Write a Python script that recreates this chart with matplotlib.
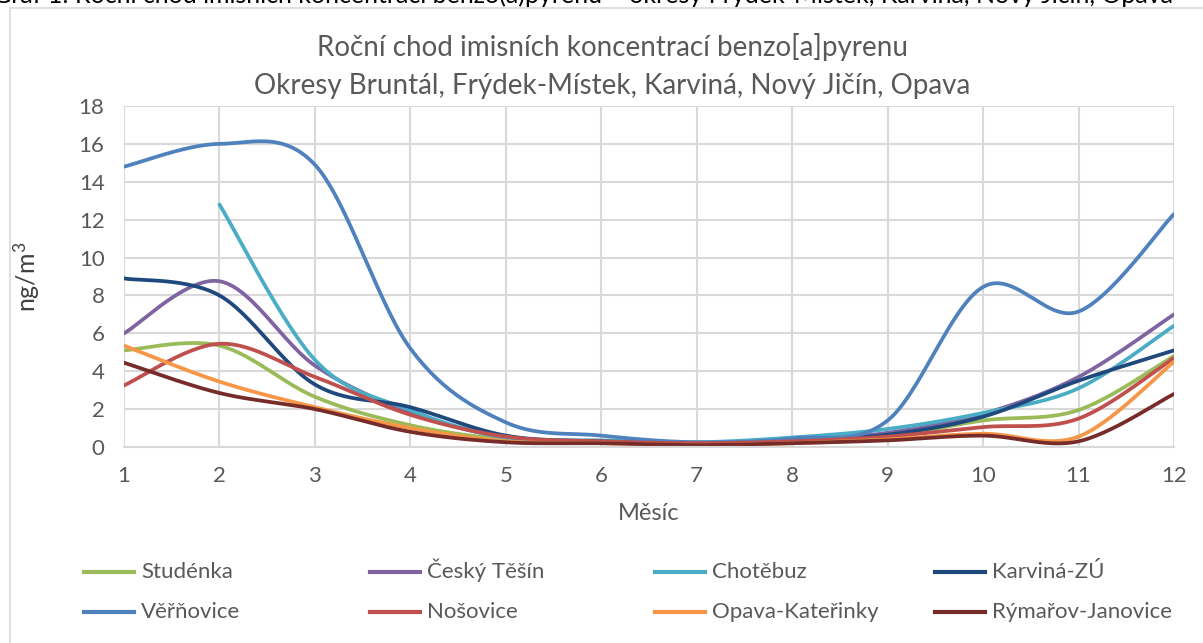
import numpy as np
import matplotlib.pyplot as plt
from matplotlib.lines import Line2D
from matplotlib.patches import Rectangle

plt.rcParams['font.family'] = ['Lato', 'DejaVu Sans']
plt.rcParams['mathtext.fontset'] = 'custom'
plt.rcParams['mathtext.rm'] = 'Lato'

# data (ng/m3, monthly means)
months = [1, 2, 3, 4, 5, 6, 7, 8, 9, 10, 11, 12]
studenka = [5.1, 5.35, 2.65, 1.15, 0.4, 0.25, 0.15, 0.25, 0.55, 1.4, 1.95, 4.8]
cesky_tesin = [6.0, 8.75, 4.3, 1.85, 0.5, 0.3, 0.2, 0.35, 0.75, 1.75, 3.7, 7.0]
chotebuz = [np.nan, 12.8, 4.6, 1.95, 0.5, 0.35, 0.25, 0.5, 0.95, 1.8, 3.1, 6.4]
karvina = [8.9, 8.0, 3.3, 2.1, 0.6, 0.3, 0.2, 0.35, 0.65, 1.6, 3.5, 5.1]
verovice = [14.8, 16.0, 14.9, 5.2, 1.3, 0.6, 0.25, 0.45, 1.4, 8.45, 7.15, 12.3]
nosovice = [3.25, 5.45, 3.7, 1.7, 0.55, 0.3, 0.2, 0.3, 0.55, 1.05, 1.5, 4.7]
opava = [5.35, 3.45, 2.1, 1.0, 0.3, 0.2, 0.1, 0.2, 0.4, 0.7, 0.55, 4.5]
rymarov = [4.45, 2.85, 2.0, 0.8, 0.25, 0.2, 0.1, 0.2, 0.35, 0.6, 0.3, 2.8]

series = [
    ('Studénka', studenka, '#9bbb59'),
    ('Český Těšín', cesky_tesin, '#8064a2'),
    ('Chotěbuz', chotebuz, '#4bacc6'),
    ('Karviná-ZÚ', karvina, '#1f497d'),
    ('Věřňovice', verovice, '#4f81bd'),
    ('Nošovice', nosovice, '#c0504d'),
    ('Opava-Kateřinky', opava, '#f79646'),
    ('Rýmařov-Janovice', rymarov, '#772c2a'),
]


def excel_smooth(x, y, steps=30):
    # bezier smoothing like Excel's "smoothed line"
    x = np.asarray(x, float)
    y = np.asarray(y, float)
    ok = ~np.isnan(y)
    p = np.column_stack([x[ok], y[ok]])
    n = len(p)
    out = []
    t = np.linspace(0, 1, steps)[:, None]
    for i in range(n - 1):
        pm = p[i - 1] if i > 0 else p[i]
        pn = p[i + 2] if i + 2 < n else p[i + 1]
        c1 = p[i] + (p[i + 1] - pm) / 6
        c2 = p[i + 1] - (pn - p[i]) / 6
        seg = ((1 - t) ** 3) * p[i] + 3 * ((1 - t) ** 2) * t * c1 \
            + 3 * (1 - t) * t ** 2 * c2 + t ** 3 * p[i + 1]
        out.append(seg if i == 0 else seg[1:])
    out = np.vstack(out)
    return out[:, 0], out[:, 1]


W, H = 1203, 643
fig = plt.figure(figsize=(W / 100, H / 100), dpi=100)
ax = fig.add_axes([124 / W, 1 - 447 / H, 1050 / W, 341 / H])

for name, vals, col in series:
    sx, sy = excel_smooth(months, vals)
    ax.plot(sx, sy, color=col, lw=2.7, solid_capstyle='round')

grey = '#595959'
ax.set_xlim(1, 12)
ax.set_ylim(0, 18)
ax.set_xticks(months)
ax.set_yticks(range(0, 19, 2))
ax.tick_params(length=0, labelsize=16, colors=grey)
ax.tick_params(axis='x', pad=14)
ax.tick_params(axis='y', pad=14)
ax.grid(True, color='#d9d9d9', lw=1.5)
ax.set_axisbelow(True)
for s in ['top', 'right', 'left']:
    ax.spines[s].set_visible(False)
ax.spines['bottom'].set_color('#d9d9d9')
ax.spines['bottom'].set_linewidth(1.5)

ax.set_xlabel('Měsíc', fontsize=17, color=grey)
ax.xaxis.set_label_coords(0.5, -0.165)
ax.set_ylabel('ng/m$\\mathregular{^3}$', fontsize=18, color='#404040')
ax.yaxis.set_label_coords(-0.078, 0.5)

fig.text(0.5088, 1 - 47 / H, 'Roční chod imisních koncentrací benzo[a]pyrenu',
         ha='center', va='center', fontsize=20, color=grey)
fig.text(0.5088, 1 - 86 / H, 'Okresy Bruntál, Frýdek-Místek, Karviná, Nový Jičín, Opava',
         ha='center', va='center', fontsize=20, color=grey)

# clipped caption above the chart
fig.text(-0.006, 1 - 3 / H,
         'Graf 1: Roční chod imisních koncentrací benzo(a)pyrenu – okresy Frýdek-Místek, Karviná, Nový Jičín, Opava',
         ha='left', va='baseline', fontsize=18, color='black')

fig.patches.append(Rectangle((10 / W, -0.02), 1.0, 1 - 8 / H + 0.02,
                             transform=fig.transFigure, fill=False,
                             ec='#d9d9d9', lw=1.2))

# legend: 2 rows x 4 columns, laid out like the Excel legend
col_x = [84, 370, 655, 935]
row_y = [572, 612]
for k, (name, vals, col) in enumerate(series):
    r, c = divmod(k, 4)
    x0, y0 = col_x[c], row_y[r]
    fig.add_artist(Line2D([x0 / W, (x0 + 50) / W], [1 - y0 / H, 1 - y0 / H],
                          transform=fig.transFigure, color=col, lw=3))
    fig.text((x0 + 57) / W, 1 - (y0 + 6) / H, name, ha='left', va='baseline',
             fontsize=16, color=grey)

fig.savefig('out.png', dpi=100)
